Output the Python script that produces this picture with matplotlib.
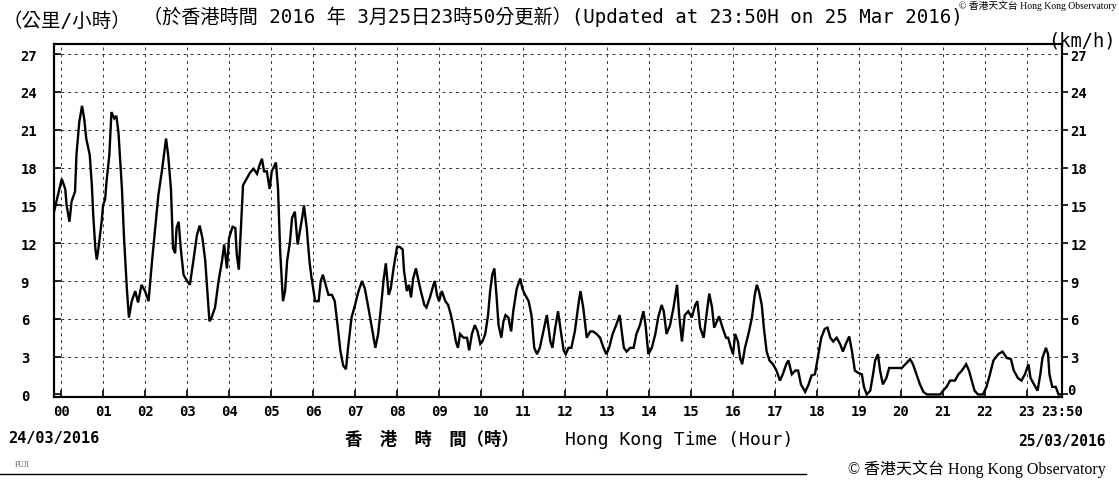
import numpy as np
import matplotlib
matplotlib.use("Agg")
import matplotlib.pyplot as plt
from matplotlib.lines import Line2D

# minutes after 00:00 on 24/03/2016, mean wind speed (km/h)
minutes = [-10, 1, 6, 8, 12, 15, 20, 22, 26, 30, 33, 36, 39, 41, 44, 46, 49, 51, 53, 58,
           60, 63, 65, 69, 72, 76, 79, 82, 84, 87, 90, 94, 97, 101, 106, 110, 115, 120, 125, 130,
           134, 139, 144, 150, 153, 157, 160, 163, 165, 168, 171, 175, 180, 184, 189, 194, 198, 202, 206, 209,
           212, 215, 220, 225, 230, 233, 237, 240, 245, 249, 251, 254, 257, 260, 265, 270, 275, 280, 283, 287,
           290, 294, 298, 301, 307, 310, 313, 317, 320, 323, 327, 330, 334, 338, 341, 345, 347, 351, 355, 358,
           363, 368, 371, 374, 378, 382, 387, 391, 395, 399, 403, 407, 410, 415, 420, 425, 430, 434, 439, 444,
           449, 453, 457, 461, 464, 468, 471, 475, 480, 484, 488, 490, 494, 497, 500, 503, 507, 510, 514, 519,
           522, 527, 532, 534, 537, 540, 544, 549, 553, 557, 560, 564, 567, 570, 575, 580, 583, 587, 591, 595,
           599, 602, 606, 610, 613, 616, 619, 622, 625, 629, 632, 635, 639, 643, 646, 651, 656, 659, 663, 668,
           672, 676, 680, 684, 689, 694, 699, 702, 706, 710, 714, 718, 721, 725, 729, 734, 739, 742, 746, 751,
           756, 760, 765, 770, 775, 779, 783, 788, 793, 798, 801, 804, 808, 813, 818, 822, 827, 832, 835, 839,
           844, 849, 853, 858, 861, 865, 870, 875, 880, 883, 887, 891, 896, 901, 906, 909, 913, 918, 922, 926,
           930, 933, 937, 940, 945, 950, 953, 957, 960, 963, 967, 970, 973, 977, 982, 987, 991, 994, 997, 1001,
           1004, 1008, 1012, 1017, 1022, 1027, 1031, 1036, 1039, 1044, 1049, 1053, 1057, 1063, 1068, 1072, 1077, 1082, 1086, 1091,
           1095, 1099, 1103, 1108, 1113, 1117, 1121, 1126, 1130, 1134, 1139, 1144, 1147, 1151, 1156, 1160, 1163, 1167, 1170, 1174,
           1179, 1183, 1188, 1194, 1201, 1208, 1213, 1217, 1222, 1227, 1232, 1237, 1246, 1256, 1260, 1265, 1270, 1277, 1282, 1287,
           1293, 1297, 1301, 1305, 1310, 1317, 1322, 1327, 1332, 1339, 1345, 1351, 1357, 1361, 1367, 1372, 1377, 1382, 1385, 1390,
           1395, 1399, 1402, 1407, 1410, 1412, 1416, 1421, 1425, 1430]
speed = [14.5, 17.1, 16.3, 15.0, 13.7, 15.3, 16.1, 19.0, 21.6, 22.9, 21.9, 20.3, 19.5, 19.0, 16.6, 14.2, 11.6, 10.7, 11.4, 13.7,
         15.0, 15.5, 16.9, 19.0, 22.4, 21.9, 22.1, 20.8, 19.0, 16.3, 12.4, 8.4, 6.1, 7.4, 8.2, 7.3, 8.7, 8.2, 7.4, 10.6,
         12.9, 15.8, 17.7, 20.3, 19.0, 16.3, 11.6, 11.2, 13.2, 13.7, 11.6, 9.5, 9.0, 8.7, 10.6, 12.6, 13.4, 12.4, 10.6, 8.2,
         5.8, 6.1, 6.9, 9.0, 10.6, 11.9, 10.0, 12.4, 13.3, 13.2, 11.1, 9.9, 13.2, 16.6, 17.1, 17.6, 17.9, 17.5, 18.1, 18.7,
         17.7, 17.7, 16.3, 17.7, 18.4, 16.3, 11.4, 7.4, 8.2, 10.6, 12.1, 14.0, 14.5, 11.9, 12.9, 14.2, 15.0, 13.2, 10.5, 9.2,
         7.4, 7.4, 9.0, 9.5, 8.7, 7.9, 7.9, 7.4, 5.5, 3.5, 2.3, 2.0, 3.7, 6.1, 7.1, 8.2, 9.0, 8.4, 6.9, 5.3,
         3.7, 4.8, 6.9, 9.2, 10.4, 7.9, 8.4, 10.0, 11.7, 11.7, 11.5, 9.8, 8.2, 8.7, 7.7, 9.2, 10.0, 9.2, 8.2, 7.1,
         6.9, 7.7, 8.7, 9.0, 7.9, 7.4, 8.2, 7.4, 7.1, 6.3, 5.5, 4.2, 3.7, 4.8, 4.5, 4.5, 3.5, 4.8, 5.5, 5.0,
         4.0, 4.2, 4.8, 6.3, 8.2, 9.5, 10.0, 7.9, 5.5, 4.5, 5.8, 6.3, 6.1, 5.0, 6.6, 8.4, 9.2, 8.4, 7.9, 7.4,
         6.3, 3.7, 3.2, 3.7, 5.0, 6.3, 4.2, 3.7, 5.3, 6.6, 5.0, 3.5, 3.2, 3.7, 3.7, 5.0, 7.1, 8.2, 6.9, 4.5,
         5.0, 5.0, 4.8, 4.5, 3.7, 3.2, 3.7, 4.8, 5.5, 6.3, 5.0, 3.7, 3.4, 3.7, 3.7, 4.8, 5.5, 6.6, 5.5, 3.2,
         3.7, 4.8, 6.1, 7.1, 6.6, 4.8, 5.5, 6.9, 8.7, 6.3, 4.2, 6.3, 6.6, 6.1, 7.1, 7.4, 5.3, 4.5, 6.3, 8.0,
         6.9, 5.3, 5.8, 6.2, 5.3, 4.5, 4.5, 3.7, 3.2, 4.8, 4.2, 2.9, 2.4, 3.7, 4.8, 6.1, 7.9, 8.7, 8.2, 7.1,
         5.3, 3.4, 2.7, 2.4, 1.9, 1.1, 1.6, 2.4, 2.7, 1.6, 1.9, 1.9, 0.8, 0.2, 0.8, 1.5, 1.6, 3.2, 4.5, 5.2,
         5.3, 4.5, 4.2, 4.5, 4.0, 3.4, 4.0, 4.6, 3.4, 1.9, 1.7, 1.6, 0.6, 0.0, 0.3, 1.6, 2.7, 3.2, 1.9, 0.8,
         1.3, 2.1, 2.1, 2.1, 2.1, 2.5, 2.8, 2.4, 1.6, 0.8, 0.2, 0.0, 0.0, 0.0, 0.3, 0.6, 1.1, 1.1, 1.6, 1.9,
         2.4, 1.9, 1.1, 0.3, 0.0, 0.0, 0.6, 1.6, 2.7, 3.2, 3.4, 2.9, 2.8, 1.9, 1.3, 1.1, 1.6, 2.4, 1.3, 0.8,
         0.3, 1.6, 2.9, 3.7, 3.2, 1.6, 0.6, 0.6, 0.0, 0.0]

hour_labels = ["%02d" % h for h in range(24)] + ["23:50"]
yticks = [0, 3, 6, 9, 12, 15, 18, 21, 24, 27]

hours = np.array(minutes) / 60.0

mono = "DejaVu Sans Mono"
cjk = "Noto Sans CJK TC"
mixed = [mono, cjk]

fig = plt.figure(figsize=(11.19, 4.81), dpi=100)
ax = fig.add_axes([0.0483, 0.1726, 0.9008, 0.7338])

ax.plot(hours, speed, color="black", lw=1.7, solid_joinstyle="miter")

ax.set_xlim(-10 / 60, 1430 / 60)
ax.set_ylim(-0.2, 27.8)

# dashed grid
for h in range(24):
    ax.axvline(h, color="#333333", lw=0.7, ls=(0, (3, 4)), zorder=0)
for v in yticks[1:]:
    ax.axhline(v, color="#333333", lw=0.7, ls=(0, (3, 4)), zorder=0)

ax.set_xticks(list(range(24)) + [1430 / 60])
ax.set_xticklabels(hour_labels, family=mono, weight="bold", fontsize=10)
ax.tick_params(axis="x", direction="in", length=5, width=1.2, pad=5)

ax.set_yticks(yticks)
ax.set_yticklabels([str(v) for v in yticks], family=mono, weight="bold", fontsize=10)
ax.tick_params(axis="y", direction="in", length=5, width=1.2, pad=24)
for lab in ax.get_yticklabels():
    lab.set_horizontalalignment("left")

ax2 = ax.twinx()
ax2.set_ylim(ax.get_ylim())
ax2.set_yticks(yticks)
ax2.set_yticklabels(["" if v == 0 else str(v) for v in yticks], family=mono, weight="bold", fontsize=10)
ax2.tick_params(axis="y", direction="out", length=4, width=1.2, pad=2)

for a in (ax, ax2):
    for s in a.spines.values():
        s.set_linewidth(1.5)

# headings
fig.text(0.002, 0.955, "（公里/小時）", family=mixed, fontsize=14, va="center")
fig.text(0.128, 0.965, "（於香港時間 2016 年 3月25日23時50分更新）(Updated at 23:50H on 25 Mar 2016)",
         family=mixed, fontsize=13.8, va="center")
fig.text(0.997, 0.915, "(km/h)", family=mono, fontsize=13.5, ha="right", va="center")
fig.text(0.998, 0.999, "© 香港天文台 Hong Kong Observatory",
         family=["Liberation Serif", cjk], fontsize=7, ha="right", va="top")

# bottom texts
fig.text(0.954, 0.187, "0", family=mono, weight="bold", fontsize=10, ha="left", va="center")
fig.text(0.007, 0.088, "24/03/2016", family=mono, weight="bold", fontsize=11, va="center")
fig.text(0.988, 0.083, "25/03/2016", family=mono, weight="bold", fontsize=10.5, ha="right", va="center")
fig.text(0.308, 0.085, "香　港　時　間（時）", family=[cjk], weight="bold", fontsize=12.5, va="center")
fig.text(0.505, 0.085, "Hong Kong Time (Hour)", family=mono, fontsize=13, va="center")
fig.text(0.988, 0.025, "© 香港天文台 Hong Kong Observatory",
         family=["Liberation Serif", cjk], fontsize=11.5, ha="right", va="center")
fig.text(0.013, 0.033, "FUJI", family="Liberation Serif", fontsize=5.5, color="#555555", va="center")
fig.add_artist(Line2D([0.0, 0.72], [0.012, 0.012], color="black", lw=1.0))

fig.savefig("out.png", dpi=100)
